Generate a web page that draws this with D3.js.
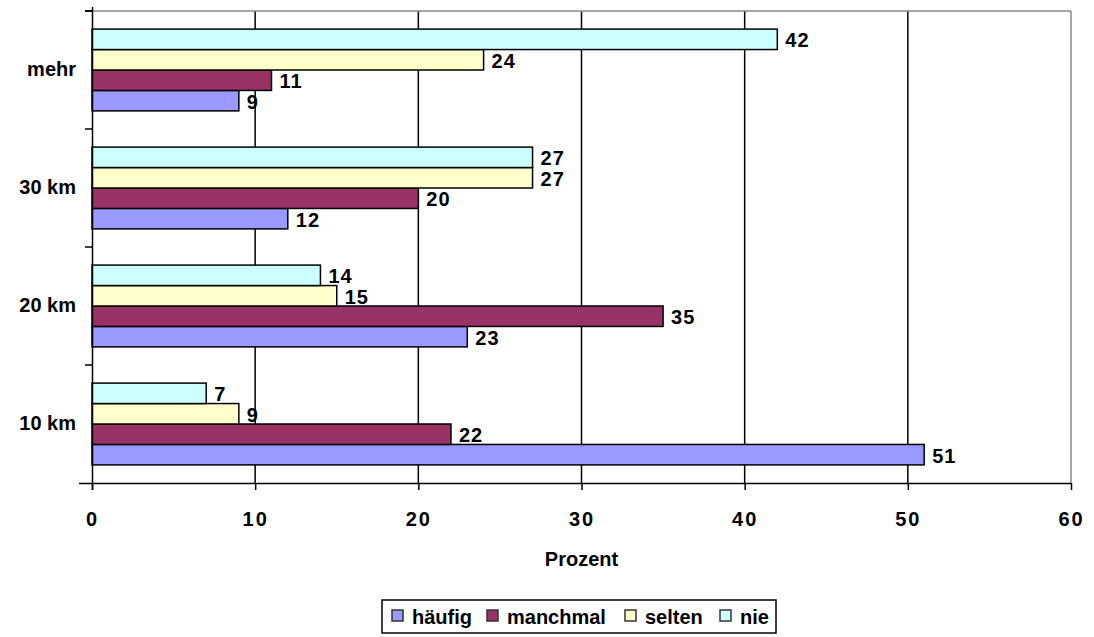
<!DOCTYPE html>
<html><head><meta charset="utf-8">
<script src="https://cdn.jsdelivr.net/npm/d3@7"></script>
<style>
body{margin:0;background:#fff;}
svg{display:block;font-family:"Liberation Sans",Arial,sans-serif;font-weight:bold;}
</style></head>
<body><svg id="c" width="1094" height="637"></svg>
<script>
const categories = ["10 km","20 km","30 km","mehr"];
const seriesNames = ["häufig","manchmal","selten","nie"];
const haeufig  = [51,23,12,9];
const manchmal = [22,35,20,11];
const selten   = [9,15,27,24];
const nie      = [7,14,27,42];
const xTicks = [0,10,20,30,40,50,60];
const colors = ["#9999FF","#993366","#FFFFCC","#CCFFFF"];
const seriesValues = [haeufig, manchmal, selten, nie];
const FS = 20;

const svg = d3.select("#c");
const L=92, R=1071, T=11, B=483;
const x = d3.scaleLinear().domain([0,60]).range([L,R]);
const y0 = d3.scaleBand().domain(categories.slice().reverse()).range([T,B]).padding(0);
const y1 = d3.scaleBand().domain(seriesNames.slice().reverse()).range([0,y0.bandwidth()]).paddingInner(0).paddingOuter(0.885);

// gridlines
svg.append("g").selectAll("line").data(xTicks.filter(d=>d>0 && d<60)).join("line")
  .attr("x1",d=>x(d)).attr("x2",d=>x(d)).attr("y1",T).attr("y2",B)
  .attr("stroke","#000").attr("stroke-width",1.5);
svg.append("line").attr("x1",L).attr("x2",R).attr("y1",T).attr("y2",T).attr("stroke","#888").attr("stroke-width",1.5);
svg.append("line").attr("x1",R).attr("x2",R).attr("y1",T).attr("y2",B).attr("stroke","#888").attr("stroke-width",1.5);

// bars
const data = [];
categories.forEach((c,i)=>seriesNames.forEach((s,j)=>data.push({c,s,j,v:seriesValues[j][i]})));
svg.append("g").selectAll("rect").data(data).join("rect")
  .attr("x",x(0)).attr("y",d=>y0(d.c)+y1(d.s))
  .attr("width",d=>x(d.v)-x(0)).attr("height",y1.bandwidth())
  .attr("fill",d=>colors[d.j]).attr("stroke","#000").attr("stroke-width",1.5);
svg.append("g").selectAll("text").data(data).join("text")
  .attr("x",d=>x(d.v)+8).attr("y",d=>y0(d.c)+y1(d.s)+y1.bandwidth()/2+8)
  .attr("font-size",FS).attr("letter-spacing",1).text(d=>d.v);

// axes
const xa = svg.append("g").attr("transform",`translate(0,${B})`)
  .call(d3.axisBottom(x).tickValues(xTicks).tickSize(7).tickSizeOuter(0).tickPadding(22));
xa.select(".domain").attr("stroke","#000").attr("stroke-width",1.5);
xa.selectAll(".tick line").attr("stroke","#000").attr("stroke-width",1.5);
xa.selectAll(".tick text").attr("font-size",FS).attr("font-family","Liberation Sans, Arial, sans-serif")
  .attr("font-weight","bold").attr("letter-spacing",2).attr("fill","#000");
xa.select(".domain").attr("d",`M${L-13},0.5H${R}`);

const ya = svg.append("g").attr("transform",`translate(${L},0)`)
  .call(d3.axisLeft(y0).tickSize(0).tickPadding(16));
ya.select(".domain").attr("stroke","#000").attr("stroke-width",1.5).attr("d",`M0.5,${T-4}V${B+7}`);
ya.selectAll(".tick text").attr("font-size",FS).attr("font-family","Liberation Sans, Arial, sans-serif")
  .attr("font-weight","bold").attr("fill","#000");
const bounds = categories.map(c=>y0(c)).concat([T]);
svg.append("g").selectAll("line").data(bounds).join("line")
  .attr("x1",L-7).attr("x2",L).attr("y1",d=>d).attr("y2",d=>d).attr("stroke","#000").attr("stroke-width",1.5);

svg.append("text").attr("x",(L+R)/2).attr("y",566).attr("text-anchor","middle").attr("font-size",FS).text("Prozent");

// legend
const lg = svg.append("g");
lg.append("rect").attr("x",382).attr("y",600).attr("width",394).attr("height",33)
  .attr("fill","#fff").attr("stroke","#000").attr("stroke-width",1.5);
const lx = [392,487,625,720];
seriesNames.forEach((s,j)=>{
  lg.append("rect").attr("x",lx[j]).attr("y",610).attr("width",11).attr("height",11)
    .attr("fill",colors[j]).attr("stroke","#333").attr("stroke-width",1.5);
  lg.append("text").attr("x",lx[j]+20).attr("y",624).attr("font-size",FS).text(s);
});
</script></body></html>
